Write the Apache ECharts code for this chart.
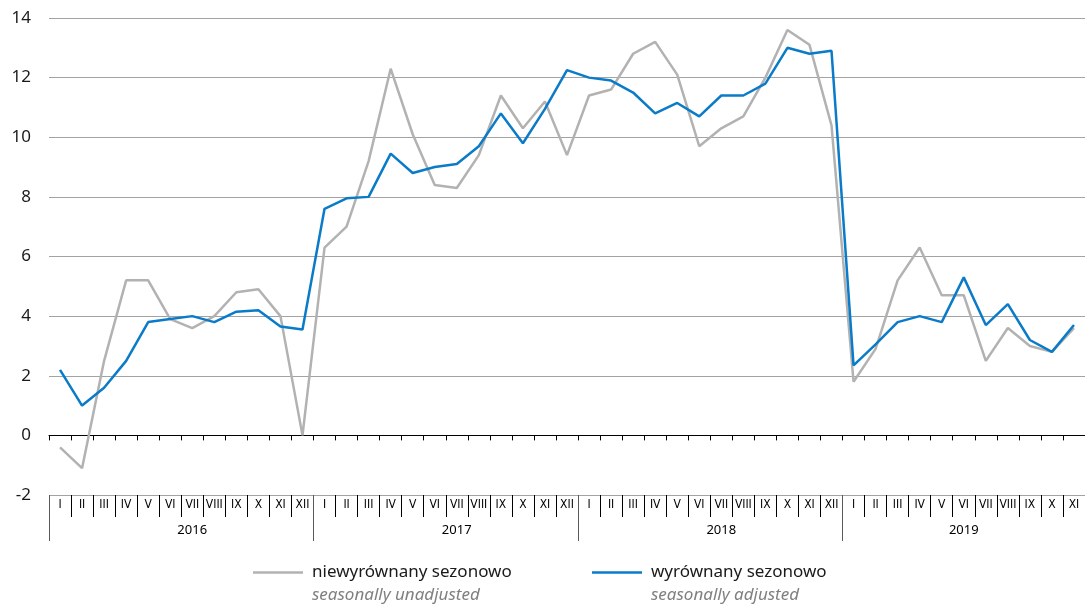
<!DOCTYPE html>
<html>
<head>
<meta charset="utf-8">
<script src="https://cdn.jsdelivr.net/npm/echarts@6/dist/echarts.min.js"></script>
<style>
html,body{margin:0;padding:0;background:#fff;}
#chart{width:1085px;height:611px;}
</style>
</head>
<body>
<div id="chart"></div>
<script>
const years = ['2016', '2017', '2018', '2019'];
const monthsPerYear = [12, 12, 12, 11];
const monthLabels = ['I','II','III','IV','V','VI','VII','VIII','IX','X','XI','XII'];
const yTicks = { min: -2, max: 14, interval: 2 };
const seriesNames = ['niewyrównany sezonowo', 'wyrównany sezonowo'];
const seriesSubtitles = ['seasonally unadjusted', 'seasonally adjusted'];

const unadjusted = [
  -0.4, -1.1, 2.5, 5.2, 5.2, 3.9, 3.6, 4.0, 4.8, 4.9, 4.0, 0.0,
  6.3, 7.0, 9.2, 12.3, 10.1, 8.4, 8.3, 9.4, 11.4, 10.3, 11.2, 9.4,
  11.4, 11.6, 12.8, 13.2, 12.1, 9.7, 10.3, 10.7, 12.0, 13.6, 13.1, 10.4,
  1.8, 2.9, 5.2, 6.3, 4.7, 4.7, 2.5, 3.6, 3.0, 2.8, 3.6
];
const adjusted = [
  2.2, 1.0, 1.6, 2.5, 3.8, 3.9, 4.0, 3.8, 4.15, 4.2, 3.65, 3.55,
  7.6, 7.95, 8.0, 9.45, 8.8, 9.0, 9.1, 9.7, 10.8, 9.8, 10.95, 12.25,
  12.0, 11.9, 11.5, 10.8, 11.15, 10.7, 11.4, 11.4, 11.8, 13.0, 12.8, 12.9,
  2.35, 3.05, 3.8, 4.0, 3.8, 5.3, 3.7, 4.4, 3.2, 2.8, 3.7
];

// build category keys
const catKeys = [];
const yearStart = [];
years.forEach((y, yi) => {
  yearStart.push(catKeys.length);
  for (let m = 0; m < monthsPerYear[yi]; m++) catKeys.push(y + '|' + monthLabels[m]);
});
const yearLabelAt = {};
years.forEach((y, yi) => {
  const n = monthsPerYear[yi];
  if (n % 2 === 0) yearLabelAt[yearStart[yi] + n / 2 - 1] = '{e|' + y + '}';
  else yearLabelAt[yearStart[yi] + (n - 1) / 2] = '{o|' + y + '}';
});
const yearStartSet = new Set(yearStart);

const GRAY = '#b2b2b2';
const BLUE = '#0a7bc8';
const FONT = "'Noto Sans', 'Open Sans', sans-serif";
const NARROW = "'Liberation Sans Narrow', 'DejaVu Sans Condensed', 'Noto Sans', sans-serif";

const chart = echarts.init(document.getElementById('chart'), null, { renderer: 'canvas' });

function legendFor(i, left) {
  return {
    data: [seriesNames[i]],
    left: left,
    top: 541,
    padding: 0,
    icon: 'rect',
    itemWidth: 50,
    itemHeight: 2.5,
    itemGap: 0,
    selectedMode: false,
    formatter: function (name) {
      return '{z| }\n{a|' + name + '}\n{b|' + seriesSubtitles[i] + '}';
    },
    textStyle: {
      rich: {
        z: { fontSize: 17, lineHeight: 23, fontFamily: FONT },
        a: { fontSize: 17, lineHeight: 23, color: '#1a1a1a', fontFamily: FONT, padding: [0, 0, 0, 4] },
        b: { fontSize: 17, lineHeight: 23, color: '#808080', fontStyle: 'italic', fontFamily: FONT, padding: [0, 0, 0, 4] }
      }
    }
  };
}

chart.setOption({
  animation: false,
  backgroundColor: '#ffffff',
  grid: { left: 49, right: 0, top: 18, bottom: 116, containLabel: false },
  legend: [legendFor(0, 253), legendFor(1, 592)],
  xAxis: [
    {
      type: 'category',
      data: catKeys,
      boundaryGap: true,
      axisLine: { onZero: true, lineStyle: { color: '#000', width: 1 } },
      axisTick: { show: true, interval: 0, length: 5, lineStyle: { color: '#000', width: 1 } },
      axisLabel: { show: false },
      splitLine: { show: false }
    },
    {
      type: 'category',
      data: catKeys,
      position: 'bottom',
      boundaryGap: true,
      axisLine: { show: false, onZero: false },
      axisTick: { show: true, interval: 0, length: 22, lineStyle: { color: '#000', width: 1 } },
      axisLabel: {
        show: true, interval: 0, margin: 4,
        fontSize: 12, color: '#000', fontFamily: NARROW,
        formatter: function (v) { return v.split('|')[1]; }
      },
      splitLine: { show: false }
    },
    {
      type: 'category',
      data: catKeys,
      position: 'bottom',
      boundaryGap: true,
      axisLine: { show: false, onZero: false },
      axisTick: {
        show: true, length: 46,
        interval: function (idx) { return yearStartSet.has(idx) || idx === catKeys.length; },
        lineStyle: { color: '#595959', width: 1 }
      },
      axisLabel: {
        show: true, interval: 0, margin: 29,
        formatter: function (v, idx) { return yearLabelAt[idx] || ''; },
        rich: {
          e: { fontSize: 13, color: '#000', fontFamily: FONT, padding: [0, 0, 0, 44] },
          o: { fontSize: 13, color: '#000', fontFamily: FONT }
        }
      },
      splitLine: { show: false }
    }
  ],
  yAxis: {
    type: 'value',
    min: yTicks.min,
    max: yTicks.max,
    interval: yTicks.interval,
    axisLine: { show: false },
    axisTick: { show: false },
    axisLabel: { fontSize: 17, color: '#1a1a1a', margin: 18, fontFamily: FONT },
    splitLine: { show: true, lineStyle: { color: '#a3a3a3', width: 1.2 } }
  },
  series: [
    {
      name: seriesNames[0],
      type: 'line',
      xAxisIndex: 0,
      data: unadjusted,
      symbol: 'none',
      lineStyle: { color: GRAY, width: 2.5 },
      itemStyle: { color: GRAY },
      z: 2
    },
    {
      name: seriesNames[1],
      type: 'line',
      xAxisIndex: 0,
      data: adjusted,
      symbol: 'none',
      lineStyle: { color: BLUE, width: 2.5 },
      itemStyle: { color: BLUE },
      z: 3
    }
  ]
});
</script>
</body>
</html>
